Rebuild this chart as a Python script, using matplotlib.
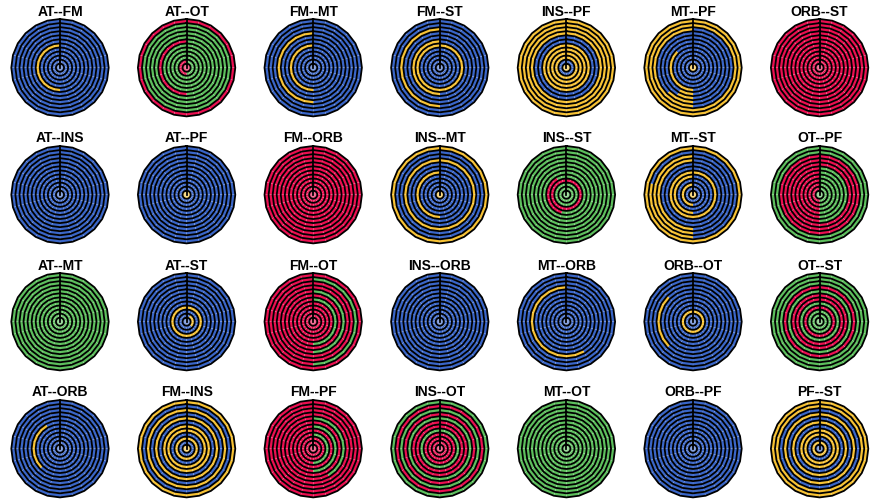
import numpy as np
import matplotlib.pyplot as plt

plt.rcParams['font.family'] = ['Liberation Sans', 'DejaVu Sans']

# cell colours per ring (center -> outside), 24 sectors clockwise from the top
# a single letter means the whole ring has that colour
COLORS = {'B': '#3a66c8', 'Y': '#f7c234', 'G': '#5dbf5d', 'R': '#eb0f50'}
RH = 'B' * 12 + 'Y' * 12   # blue right / yellow left
GR = 'G' * 12 + 'R' * 12   # green right / red left

titles = ['AT--FM', 'AT--OT', 'FM--MT', 'FM--ST', 'INS--PF', 'MT--PF', 'ORB--ST',
          'AT--INS', 'AT--PF', 'FM--ORB', 'INS--MT', 'INS--ST', 'MT--ST', 'OT--PF',
          'AT--MT', 'AT--ST', 'FM--OT', 'INS--ORB', 'MT--ORB', 'ORB--OT', 'OT--ST',
          'AT--ORB', 'FM--INS', 'FM--PF', 'INS--OT', 'MT--OT', 'ORB--PF', 'PF--ST']

at_fm = ['B', 'B', 'B', 'B', 'B', RH, 'B', 'B', 'B', 'B', 'B', 'B']
at_ot = ['R', 'G' * 12 + 'R' * 12, 'G', 'G', 'G', 'G', 'G' * 12 + 'R' * 12, 'G', 'G', 'G', 'G', 'R']
fm_mt = ['B', 'B', 'B', 'B', 'B', RH, 'B', 'B', RH, 'B', 'B', 'B']
fm_st = ['B', 'B', 'B', 'B', 'B', 'Y', RH, 'B', 'B', RH, 'B', 'B']
ins_pf = ['Y', 'B', 'Y', 'Y', 'Y', 'Y', 'B', 'B', 'Y', 'Y', 'Y', 'Y']
mt_pf = ['Y', 'B', 'B', 'B', 'B', 'B' * 12 + 'Y' * 9 + 'B' * 3,
         'B' * 12 + 'YY' + 'B' * 10, 'B' * 12 + 'YY' + 'B' * 10,
         'B' * 12 + 'YYY' + 'B' * 9, RH, 'Y', 'Y']
orb_st = ['R'] * 12

at_ins = ['B'] * 12
at_pf = ['Y'] + ['B'] * 11
fm_orb = ['R'] * 12
ins_mt = ['Y', 'B', 'B', 'B', 'B', RH, 'B', 'B', 'Y', 'B', 'B', 'Y']
ins_st = ['G', 'G', 'G', 'R', 'G' * 13 + 'R' * 9 + 'GG', 'G', 'G', 'G', 'G', 'G', 'G', 'G']
mt_st = ['Y', 'B', RH, 'B', RH, 'Y', 'B', 'B', RH, RH,
         'B' * 12 + 'Y' * 7 + 'B' * 5, 'Y']
ot_pf = ['G', GR, GR, GR, GR, GR, GR, 'R', 'R', 'R', 'G', 'G']

at_mt = ['G'] * 12
at_st = ['B', 'BB' + 'Y' * 7 + 'B' * 15, 'B', 'Y', 'B', 'B', 'B', 'B', 'B', 'B', 'B', 'B']
fm_ot = ['R', 'R', 'R', 'R', 'R', GR, 'R', GR, 'R', 'R', GR, 'R']
ins_orb = ['B'] * 12
mt_orb = ['B', 'B', 'B', 'B', 'B', 'B', 'B', 'B', 'B' * 10 + 'Y' * 14, 'B', 'B', 'B']
orb_ot = ['B', 'B', 'Y', 'B', 'B', 'B', 'B', 'B', 'B' * 15 + 'Y' * 6 + 'B' * 3, 'B', 'B', 'B']
ot_st = ['G', 'G', 'G', 'R', 'G', 'R', 'R', 'G', 'R', 'G', 'G', 'G']

at_orb = ['B', 'B', 'B', 'B', 'B', 'B', 'B' * 15 + 'Y' * 7 + 'BB', 'B', 'B', 'B', 'B', 'B']
fm_ins = ['Y', 'B', 'Y', 'B', 'Y', 'Y', 'B', 'Y', 'B', 'Y', 'B', 'Y']
fm_pf = ['R', 'R', 'R', GR, 'R', GR, 'R', 'G' * 10 + 'R' * 14, 'R', 'R', 'R', 'R']
ins_ot = ['R', 'R', 'R', 'R', 'G', 'R', 'R', 'G', 'R', 'G', 'R', 'G']
mt_ot = ['G'] * 12
orb_pf = ['B'] * 12
pf_st = ['B', 'Y', 'B', 'Y', 'Y', 'B', 'Y', 'B', 'Y', 'B', 'Y', 'Y']

panels = [at_fm, at_ot, fm_mt, fm_st, ins_pf, mt_pf, orb_st,
          at_ins, at_pf, fm_orb, ins_mt, ins_st, mt_st, ot_pf,
          at_mt, at_st, fm_ot, ins_orb, mt_orb, orb_ot, ot_st,
          at_orb, fm_ins, fm_pf, ins_ot, mt_ot, orb_pf, pf_st]

W, H = 876, 499
n_seg = 24
width = 2 * np.pi / n_seg
theta = np.arange(n_seg) * width

fig = plt.figure(figsize=(W / 100, H / 100), dpi=100)

for i, (title, rings) in enumerate(zip(titles, panels)):
    row, col = divmod(i, 7)
    cx = 60 + 126.6 * col
    cy = 67.7 + 127 * row
    rad = 48.7
    ax = fig.add_axes([(cx - rad) / W, 1 - (cy + rad) / H, 2 * rad / W, 2 * rad / H],
                      projection='polar')
    ax.set_theta_zero_location('N')
    ax.set_theta_direction(-1)

    for k, s in enumerate(rings):
        if len(s) == 1:
            s = s * n_seg
        cols = [COLORS[c] for c in s]
        ax.bar(theta, 1, width=width, bottom=k, align='edge', color=cols,
               edgecolor=(1, 1, 1, 0.2), linewidth=0.3)

    t = np.linspace(0, 2 * np.pi, n_seg + 1)
    for k in range(1, len(rings) + 1):
        ax.plot(t, np.full_like(t, k), color='black', lw=1.3, clip_on=False)
    ax.plot([0, 0], [0, len(rings)], color='black', lw=1.3)

    ax.set_ylim(0, len(rings))
    ax.axis('off')

    fig.text(cx / W, 1 - (cy - rad - 3.5) / H, title, ha='center', va='baseline',
             fontsize=10, fontweight='bold')

fig.savefig('out.png', dpi=100)
